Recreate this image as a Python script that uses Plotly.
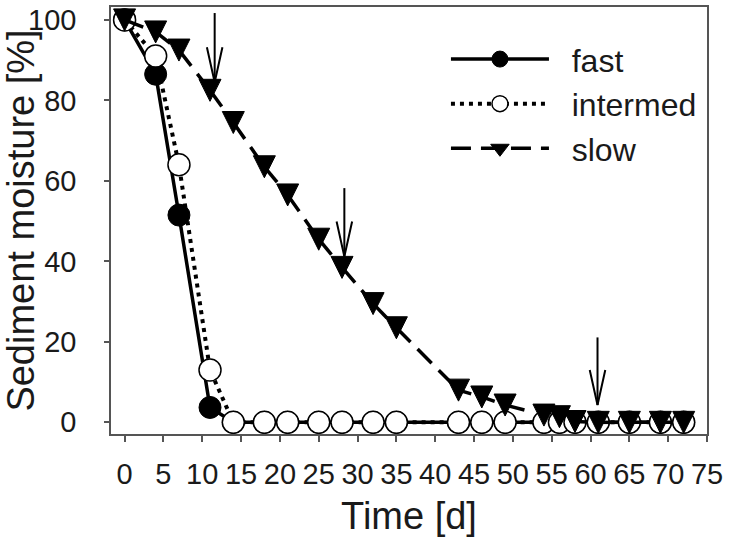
import plotly.graph_objects as go

# ---- data ----
time_d = [0, 4, 7, 11, 14, 18, 21, 25, 28, 32, 35, 43, 46, 49, 54, 56, 58, 61, 65, 69, 72]
fast = [100, 86.5, 51.5, 3.7, 0, 0, 0, 0, 0, 0, 0, 0, 0, 0, 0, 0, 0, 0, 0, 0, 0]
intermed = [100, 91, 64, 13, 0, 0, 0, 0, 0, 0, 0, 0, 0, 0, 0, 0, 0, 0, 0, 0, 0]
slow = [100, 97, 92.5, 82.5, 74.5, 63.5, 56.5, 45.5, 38.5, 29.5, 23.5, 8, 6.3, 4.3,
        1.8, 1.4, 0.2, 0, 0, 0, 0]

x_ticks = [0, 5, 10, 15, 20, 25, 30, 35, 40, 45, 50, 55, 60, 65, 70, 75]
y_ticks = [0, 20, 40, 60, 80, 100]

# arrows: day, top value, tip value
arrow_day = [11.6, 28.3, 60.9]
arrow_top = [101.7, 58.2, 21.1]
arrow_tip = [84.5, 41.2, 4.3]

FONT = "Liberation Sans, Arial, sans-serif"
TXT = "#1a1a1a"
NB = "\u00a0\u00a0"

fig = go.Figure()

fig.add_trace(go.Scatter(
    x=time_d, y=fast, name=NB + "fast", mode="lines+markers",
    line=dict(color="black", width=3.5),
    marker=dict(symbol="circle", size=22, color="black",
                line=dict(color="black", width=1)),
))
fig.add_trace(go.Scatter(
    x=time_d, y=intermed, name=NB + "intermed", mode="lines+markers",
    line=dict(color="black", width=4, dash="4px,5px"),
    marker=dict(symbol="circle", size=22, color="white",
                line=dict(color="black", width=1.5)),
))
fig.add_trace(go.Scatter(
    x=time_d, y=slow, name="slow", mode="lines+markers", showlegend=False,
    line=dict(color="black", width=3.5, dash="20px,10px"),
    marker=dict(symbol="arrow-down", size=22, color="black", standoff=11,
                line=dict(color="black", width=1)),
))
# legend entry for the slow series (legend-only, no data)
fig.add_trace(go.Scatter(
    x=[None], y=[None], name=NB + "slow", mode="lines+markers",
    line=dict(color="black", width=3.5, dash="20px,10px"),
    marker=dict(symbol="triangle-down", size=19, color="black",
                line=dict(color="black", width=1)),
))

# arrows
head_len = 8.7
head_half = 1.0
for xd, yt, yp in zip(arrow_day, arrow_top, arrow_tip):
    fig.add_shape(type="line", xref="x", yref="y", x0=xd, x1=xd, y0=yt, y1=yp,
                  line=dict(color="black", width=2))
    fig.add_shape(type="path", xref="x", yref="y",
                  path=f"M{xd - head_half},{yp + head_len} L{xd},{yp} L{xd + head_half},{yp + head_len}",
                  line=dict(color="black", width=2))

fig.update_layout(
    width=730, height=547,
    margin=dict(l=111, r=23, t=7, b=113),
    paper_bgcolor="white", plot_bgcolor="white",
    font=dict(family=FONT, color=TXT),
    showlegend=True,
    legend=dict(
        x=0.562, y=0.942, xanchor="left", yanchor="top",
        font=dict(family=FONT, size=32, color=TXT),
        itemwidth=98, bgcolor="rgba(0,0,0,0)",
    ),
)

fig.update_xaxes(
    range=[-1.75, 75], tickvals=x_ticks, ticktext=[str(v) for v in x_ticks],
    showline=True, linecolor="#555", linewidth=1.5, mirror=True,
    ticks="outside", ticklen=6, tickcolor="#555", tickwidth=1.5,
    showgrid=False, zeroline=False, automargin=False,
    tickfont=dict(family=FONT, size=29, color=TXT),
    ticklabelstandoff=7,
    title=dict(text="Time [d]", font=dict(family=FONT, size=38, color=TXT), standoff=14),
)
fig.update_yaxes(
    range=[-2.9, 103.2], tickvals=y_ticks, ticktext=[str(v) for v in y_ticks],
    showline=True, linecolor="#555", linewidth=1.5, mirror=True,
    ticks="outside", ticklen=5, tickcolor="#555", tickwidth=1.5,
    showgrid=False, zeroline=False, automargin=False,
    tickfont=dict(family=FONT, size=29, color=TXT),
    ticklabelstandoff=22,
    title=dict(text="Sediment moisture [%]", font=dict(family=FONT, size=38, color=TXT), standoff=4),
)

fig.write_html("out.html", config={"displayModeBar": False},
               post_script="document.body.style.margin='0';")
